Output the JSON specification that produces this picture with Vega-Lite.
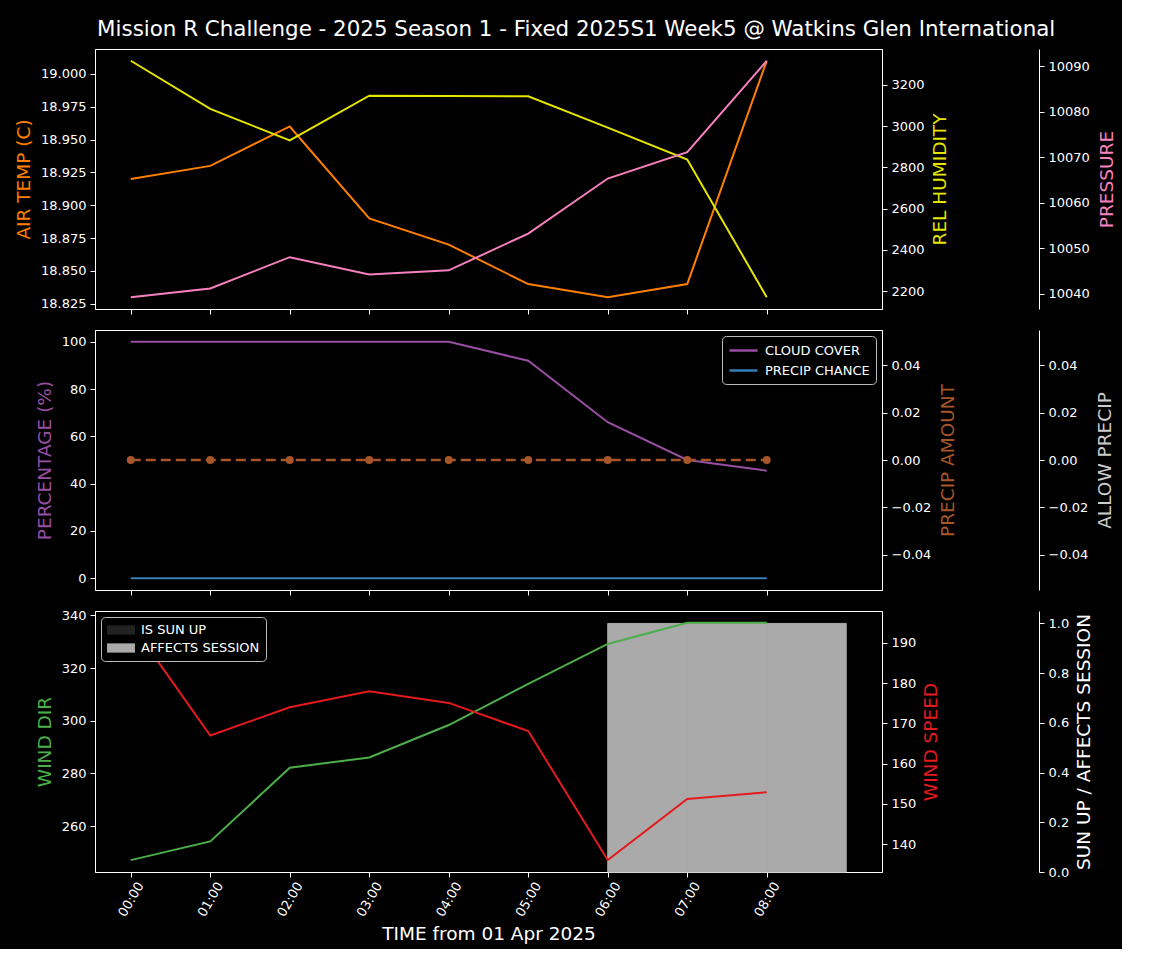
{
  "$schema": "https://vega.github.io/schema/vega-lite/v6.json",
  "background": "black",
  "padding": {"left": 14, "top": 19, "right": 5, "bottom": 5},
  "bounds": "flush",
  "title": {
    "text": "Mission R Challenge - 2025 Season 1 - Fixed 2025S1 Week5 @ Watkins Glen International",
    "color": "white", "fontSize": 21.4, "font": "DejaVu Sans", "fontWeight": "normal",
    "anchor": "middle", "frame": "bounds", "offset": 8, "dx": 11
  },
  "datasets": {
    "wx": [
      {"hour": 0, "air_temp": 18.92, "rel_humidity": 3317, "pressure": 10039.2, "cloud_cover": 100, "precip_chance": 0, "precip_amount": 0, "allow_precip": 0, "wind_dir": 247.1, "wind_speed": 195.0},
      {"hour": 1, "air_temp": 18.93, "rel_humidity": 3084, "pressure": 10041.1, "cloud_cover": 100, "precip_chance": 0, "precip_amount": 0, "allow_precip": 0, "wind_dir": 254.2, "wind_speed": 167.0},
      {"hour": 2, "air_temp": 18.96, "rel_humidity": 2931, "pressure": 10048.0, "cloud_cover": 100, "precip_chance": 0, "precip_amount": 0, "allow_precip": 0, "wind_dir": 282.2, "wind_speed": 174.0},
      {"hour": 3, "air_temp": 18.89, "rel_humidity": 3148, "pressure": 10044.2, "cloud_cover": 100, "precip_chance": 0, "precip_amount": 0, "allow_precip": 0, "wind_dir": 286.1, "wind_speed": 178.0},
      {"hour": 4, "air_temp": 18.87, "rel_humidity": 3146, "pressure": 10045.1, "cloud_cover": 100, "precip_chance": 0, "precip_amount": 0, "allow_precip": 0, "wind_dir": 298.4, "wind_speed": 175.1},
      {"hour": 5, "air_temp": 18.84, "rel_humidity": 3145, "pressure": 10053.2, "cloud_cover": 92, "precip_chance": 0, "precip_amount": 0, "allow_precip": 0, "wind_dir": 314.0, "wind_speed": 168.1},
      {"hour": 6, "air_temp": 18.83, "rel_humidity": 2993, "pressure": 10065.3, "cloud_cover": 66, "precip_chance": 0, "precip_amount": 0, "allow_precip": 0, "wind_dir": 329.2, "wind_speed": 136.0},
      {"hour": 7, "air_temp": 18.84, "rel_humidity": 2838, "pressure": 10071.1, "cloud_cover": 50, "precip_chance": 0, "precip_amount": 0, "allow_precip": 0, "wind_dir": 337.2, "wind_speed": 151.2},
      {"hour": 8, "air_temp": 19.01, "rel_humidity": 2171, "pressure": 10091.2, "cloud_cover": 45.5, "precip_chance": 0, "precip_amount": 0, "allow_precip": 0, "wind_dir": 337.2, "wind_speed": 152.9}
    ],
    "bars": [
      {"hour": 0, "hour_end": 1, "series": "IS SUN UP", "value": 0},
      {"hour": 1, "hour_end": 2, "series": "IS SUN UP", "value": 0},
      {"hour": 2, "hour_end": 3, "series": "IS SUN UP", "value": 0},
      {"hour": 3, "hour_end": 4, "series": "IS SUN UP", "value": 0},
      {"hour": 4, "hour_end": 5, "series": "IS SUN UP", "value": 0},
      {"hour": 5, "hour_end": 6, "series": "IS SUN UP", "value": 0},
      {"hour": 6, "hour_end": 7, "series": "IS SUN UP", "value": 0},
      {"hour": 7, "hour_end": 8, "series": "IS SUN UP", "value": 0},
      {"hour": 8, "hour_end": 9, "series": "IS SUN UP", "value": 0},
      {"hour": 0, "hour_end": 1, "series": "AFFECTS SESSION", "value": 0},
      {"hour": 1, "hour_end": 2, "series": "AFFECTS SESSION", "value": 0},
      {"hour": 2, "hour_end": 3, "series": "AFFECTS SESSION", "value": 0},
      {"hour": 3, "hour_end": 4, "series": "AFFECTS SESSION", "value": 0},
      {"hour": 4, "hour_end": 5, "series": "AFFECTS SESSION", "value": 0},
      {"hour": 5, "hour_end": 6, "series": "AFFECTS SESSION", "value": 0},
      {"hour": 6, "hour_end": 7, "series": "AFFECTS SESSION", "value": 1},
      {"hour": 7, "hour_end": 8, "series": "AFFECTS SESSION", "value": 1},
      {"hour": 8, "hour_end": 9, "series": "AFFECTS SESSION", "value": 1}
    ]
  },
  "data": {"name": "wx"},
  "spacing": 21,
  "resolve": {"scale": {"color": "independent"}, "legend": {"color": "independent"}},
  "vconcat": [
    {
      "width": 787, "height": 260,
      "encoding": {
        "x": {"field": "hour", "type": "quantitative",
          "scale": {"domain": [-0.45, 9.45], "nice": false, "zero": false},
          "axis": {"values": [0,1,2,3,4,5,6,7,8], "labels": false, "title": null, "domain": false}}
      },
      "layer": [
        {"mark": {"type": "line", "color": "#ff7f00", "strokeWidth": 2},
         "encoding": {"y": {"field": "air_temp", "type": "quantitative",
           "scale": {"domain": [18.821, 19.019], "nice": false, "zero": false},
           "axis": {"orient": "left", "title": "AIR TEMP (C)", "titleColor": "#ff7f00", "format": ".3f", "titlePadding": 7,
             "values": [18.825, 18.85, 18.875, 18.9, 18.925, 18.95, 18.975, 19.0]}}}},
        {"mark": {"type": "line", "color": "#e5e500", "strokeWidth": 2},
         "encoding": {"y": {"field": "rel_humidity", "type": "quantitative",
           "scale": {"domain": [2114, 3374], "nice": false, "zero": false},
           "axis": {"orient": "right", "title": "REL HUMIDITY", "titleColor": "#e5e500", "format": "d", "titlePadding": 6,
             "titleAngle": 270, "titleBaseline": "top",
             "values": [2200, 2400, 2600, 2800, 3000, 3200]}}}},
        {"mark": {"type": "line", "color": "#f781bf", "strokeWidth": 2},
         "encoding": {"y": {"field": "pressure", "type": "quantitative",
           "scale": {"domain": [10036.6, 10093.8], "nice": false, "zero": false},
           "axis": {"orient": "right", "offset": 157, "title": "PRESSURE", "titleColor": "#f781bf", "format": "d", "titlePadding": 8,
             "titleAngle": 270, "titleBaseline": "top",
             "values": [10040, 10050, 10060, 10070, 10080, 10090]}}}}
      ],
      "resolve": {"scale": {"y": "independent"}, "axis": {"y": "independent"}}
    },
    {
      "width": 787, "height": 260,
      "encoding": {
        "x": {"field": "hour", "type": "quantitative",
          "scale": {"domain": [-0.45, 9.45], "nice": false, "zero": false},
          "axis": {"values": [0,1,2,3,4,5,6,7,8], "labels": false, "title": null, "domain": false}}
      },
      "layer": [
        {"transform": [{"fold": ["cloud_cover", "precip_chance"], "as": ["series", "pct"]}],
         "mark": {"type": "line", "strokeWidth": 2},
         "encoding": {
           "y": {"field": "pct", "type": "quantitative",
             "scale": {"domain": [-5, 105], "nice": false, "zero": false},
             "axis": {"orient": "left", "title": "PERCENTAGE (%)", "titleColor": "#984ea3", "titlePadding": 7,
               "values": [0, 20, 40, 60, 80, 100]}},
           "color": {"field": "series", "type": "nominal",
             "scale": {"domain": ["cloud_cover", "precip_chance"], "range": ["#984ea3", "#377eb8"]},
             "legend": {"orient": "top-right", "offset": 6, "title": null,
               "labelExpr": "datum.label == 'cloud_cover' ? 'CLOUD COVER' : 'PRECIP CHANCE'",
               "symbolType": "M-2,0H2", "symbolSize": 196, "symbolStrokeWidth": 2.5,
               "symbolOffset": 7, "labelOffset": 13}}
         }},
        {"mark": {"type": "line", "color": "#cccccc", "strokeWidth": 2, "opacity": 0},
         "encoding": {"y": {"field": "allow_precip", "type": "quantitative",
           "scale": {"domain": [-0.055, 0.055], "nice": false, "zero": false},
           "axis": {"orient": "right", "offset": 157, "title": "ALLOW PRECIP", "titleColor": "#cccccc", "format": ".2f", "titlePadding": 8,
             "titleAngle": 270, "titleBaseline": "top",
             "values": [-0.04, -0.02, 0, 0.02, 0.04]}}}},
        {"mark": {"type": "line", "color": "#a65628", "strokeWidth": 2.5, "strokeDash": [10, 5],
                  "point": {"filled": true, "size": 64, "color": "#a65628"}},
         "encoding": {"y": {"field": "precip_amount", "type": "quantitative",
           "scale": {"domain": [-0.055, 0.055], "nice": false, "zero": false},
           "axis": {"orient": "right", "title": "PRECIP AMOUNT", "titleColor": "#a65628", "format": ".2f", "titlePadding": 8,
             "titleAngle": 270, "titleBaseline": "top",
             "values": [-0.04, -0.02, 0, 0.02, 0.04]}}}}
      ],
      "resolve": {"scale": {"y": "independent"}, "axis": {"y": "independent"}}
    },
    {
      "width": 787, "height": 261,
      "encoding": {
        "x": {"field": "hour", "type": "quantitative",
          "scale": {"domain": [-0.45, 9.45], "nice": false, "zero": false},
          "axis": {"values": [0,1,2,3,4,5,6,7,8], "domain": false, "title": "TIME from 01 Apr 2025",
            "labelExpr": "(datum.value < 10 ? '0' : '') + datum.value + ':00'",
            "labelAngle": -60, "labelAlign": "center", "labelBaseline": "middle", "labelPadding": 22,
            "titlePadding": 6, "titleColor": "white"}}
      },
      "layer": [
        {"data": {"name": "bars"},
         "mark": {"type": "rect", "stroke": "#aaaaaa", "strokeWidth": 1},
         "encoding": {
           "x2": {"field": "hour_end"},
           "y": {"field": "value", "type": "quantitative",
             "scale": {"domain": [0, 1.05], "nice": false, "zero": false},
             "axis": {"orient": "right", "offset": 157, "title": "SUN UP / AFFECTS SESSION", "titleColor": "white", "format": ".1f", "titlePadding": 6,
               "titleAngle": 270, "titleBaseline": "top",
               "values": [0, 0.2, 0.4, 0.6, 0.8, 1.0]}},
           "y2": {"datum": 0},
           "strokeOpacity": {"condition": {"test": "datum.value > 0", "value": 1}, "value": 0},
           "color": {"field": "series", "type": "nominal",
             "scale": {"domain": ["IS SUN UP", "AFFECTS SESSION"], "range": ["#222222", "#aaaaaa"]},
             "legend": {"orient": "top-left", "offset": 6, "title": null,
               "symbolType": "M-2,-0.66H2V0.66H-2Z", "symbolSize": 196, "symbolStrokeWidth": 0,
               "symbolOffset": 7, "labelOffset": 13}}
         }},
        {"mark": {"type": "line", "color": "#4daf4a", "strokeWidth": 2},
         "encoding": {"y": {"field": "wind_dir", "type": "quantitative",
           "scale": {"domain": [242.6, 341.7], "nice": false, "zero": false},
           "axis": {"orient": "left", "title": "WIND DIR", "titleColor": "#4daf4a", "format": "d", "titlePadding": 7,
             "values": [260, 280, 300, 320, 340]}}}},
        {"mark": {"type": "line", "color": "#e41a1c", "strokeWidth": 2},
         "encoding": {"y": {"field": "wind_speed", "type": "quantitative",
           "scale": {"domain": [133.05, 197.95], "nice": false, "zero": false},
           "axis": {"orient": "right", "title": "WIND SPEED", "titleColor": "#e41a1c", "format": "d", "titlePadding": 6,
             "titleAngle": 270, "titleBaseline": "top",
             "values": [140, 150, 160, 170, 180, 190]}}}}
      ],
      "resolve": {"scale": {"y": "independent"}, "axis": {"y": "independent"}}
    }
  ],
  "config": {
    "font": "DejaVu Sans",
    "view": {"stroke": "white", "strokeWidth": 1},
    "axis": {
      "labelColor": "white", "tickColor": "white", "domainColor": "white",
      "labelFont": "DejaVu Sans", "labelFontSize": 13, "titleFont": "DejaVu Sans", "titleFontSize": 18.5,
      "titleFontWeight": "normal", "tickSize": 5, "labelPadding": 4, "grid": false,
      "tickWidth": 1, "domainWidth": 1
    },
    "legend": {
      "fillColor": "black", "strokeColor": "#bbbbbb", "cornerRadius": 4, "padding": 6,
      "labelColor": "white", "labelFont": "DejaVu Sans", "labelFontSize": 13, "rowPadding": 4
    }
  }
}
